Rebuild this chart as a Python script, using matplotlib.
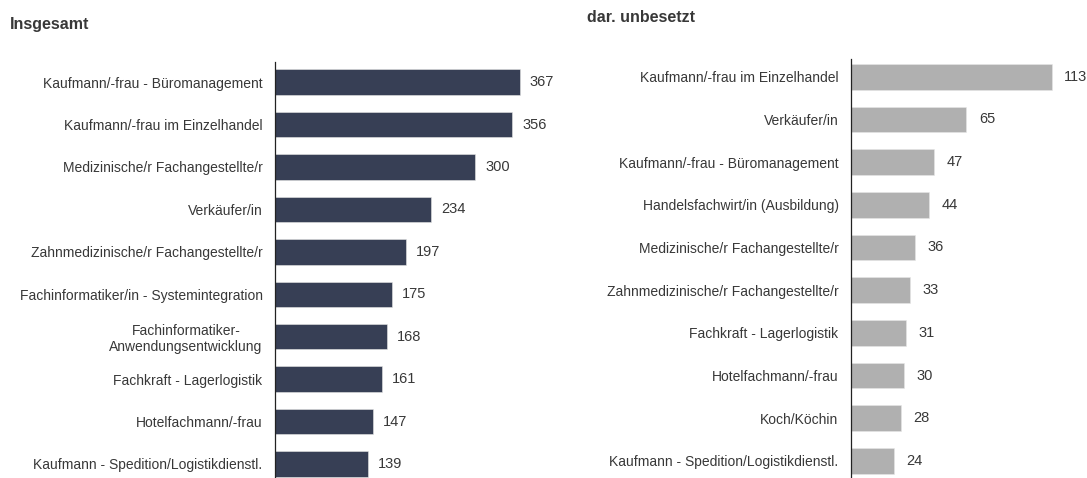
import matplotlib.pyplot as plt

plt.rcParams['font.family'] = ['Liberation Sans', 'DejaVu Sans']

# Insgesamt
berufe_gesamt = [
    "Kaufmann/-frau - Büromanagement",
    "Kaufmann/-frau im Einzelhandel",
    "Medizinische/r Fachangestellte/r",
    "Verkäufer/in",
    "Zahnmedizinische/r Fachangestellte/r",
    "Fachinformatiker/in - Systemintegration",
    "Fachinformatiker-\nAnwendungsentwicklung",
    "Fachkraft - Lagerlogistik",
    "Hotelfachmann/-frau",
    "Kaufmann - Spedition/Logistikdienstl.",
]
werte_gesamt = [367, 356, 300, 234, 197, 175, 168, 161, 147, 139]

# dar. unbesetzt
berufe_unbesetzt = [
    "Kaufmann/-frau im Einzelhandel",
    "Verkäufer/in",
    "Kaufmann/-frau - Büromanagement",
    "Handelsfachwirt/in (Ausbildung)",
    "Medizinische/r Fachangestellte/r",
    "Zahnmedizinische/r Fachangestellte/r",
    "Fachkraft - Lagerlogistik",
    "Hotelfachmann/-frau",
    "Koch/Köchin",
    "Kaufmann - Spedition/Logistikdienstl.",
]
werte_unbesetzt = [113, 65, 47, 44, 36, 33, 31, 30, 28, 24]

text_col = "#383838"


def draw_panel(ax, labels, values, color, xmax, ylim, offset):
    y = list(range(len(values)))
    ax.barh(y, values, height=0.6, color=color, edgecolor="#e6e6e6", linewidth=0.4)
    ax.set_xlim(0, xmax)
    ax.set_ylim(*ylim)
    ax.set_yticks(y)
    ax.set_yticklabels(labels, fontsize=10, color=text_col, multialignment="center")
    ax.tick_params(axis="y", length=0, pad=9)
    ax.set_xticks([])
    for s in ["top", "right", "bottom"]:
        ax.spines[s].set_visible(False)
    ax.spines["left"].set_color("#222222")
    ax.spines["left"].set_linewidth(0.9)
    for yi, v in zip(y, values):
        ax.text(v + offset, yi, str(v), va="center", ha="left", fontsize=10.5,
                color=text_col, clip_on=False)


fig = plt.figure(figsize=(10.87, 4.78), dpi=100)

ax1 = fig.add_axes([0.253, 0.0, 0.276, 0.870])
draw_panel(ax1, berufe_gesamt, werte_gesamt, "#373f55", 450, (9.33, -0.47), 15)

ax2 = fig.add_axes([0.783, 0.0, 0.217, 0.877])
draw_panel(ax2, berufe_unbesetzt, werte_unbesetzt, "#b0b0b0", 133, (9.4, -0.42), 7)

fig.text(10 / 1087, 1 - 24 / 478, "Insgesamt", fontsize=11.5, fontweight="bold",
         color=text_col, va="center")
fig.text(587 / 1087, 1 - 17 / 478, "dar. unbesetzt", fontsize=11.5, fontweight="bold",
         color=text_col, va="center")

fig.savefig("out.png", dpi=100)
